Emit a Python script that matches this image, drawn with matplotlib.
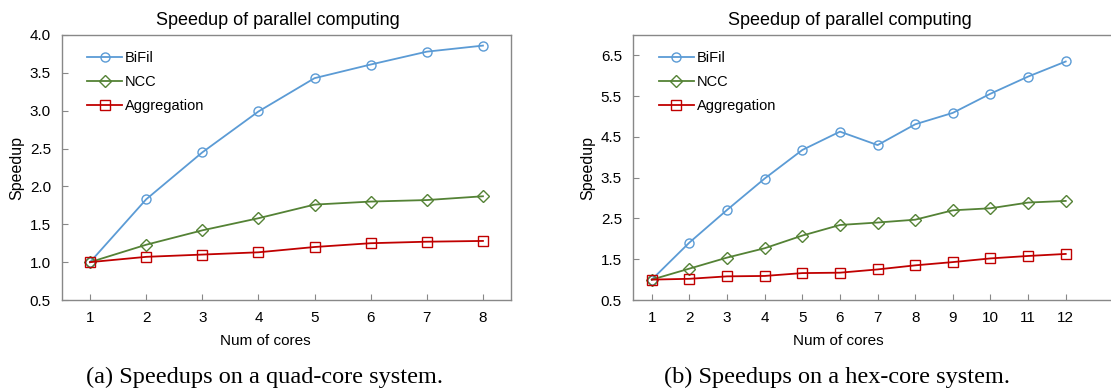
import numpy as np
import matplotlib.pyplot as plt

plt.rcParams['font.family'] = ['Liberation Sans', 'DejaVu Sans']

# quad-core system
cores_a = [1, 2, 3, 4, 5, 6, 7, 8]
bifil_a = [1.0, 1.83, 2.45, 2.99, 3.43, 3.61, 3.78, 3.86]
ncc_a = [1.0, 1.23, 1.42, 1.58, 1.76, 1.80, 1.82, 1.87]
aggr_a = [1.0, 1.07, 1.10, 1.13, 1.20, 1.25, 1.27, 1.28]

# hex-core system
cores_b = [1, 2, 3, 4, 5, 6, 7, 8, 9, 10, 11, 12]
bifil_b = [1.0, 1.91, 2.71, 3.48, 4.18, 4.63, 4.30, 4.81, 5.09, 5.56, 5.98, 6.35]
ncc_b = [1.0, 1.27, 1.54, 1.77, 2.08, 2.34, 2.40, 2.47, 2.70, 2.75, 2.89, 2.93]
aggr_b = [1.0, 1.02, 1.08, 1.09, 1.16, 1.17, 1.25, 1.35, 1.43, 1.52, 1.58, 1.63]

yticks_a = [0.5, 1.0, 1.5, 2.0, 2.5, 3.0, 3.5, 4.0]
yticks_b = [0.5, 1.5, 2.5, 3.5, 4.5, 5.5, 6.5]

blue = '#5B9BD5'
green = '#548235'
red = '#C00000'

W, H = 1111, 392
fig = plt.figure(figsize=(W / 100, H / 100), dpi=100)


def px_axes(left, top, right, bottom):
    return fig.add_axes([left / W, (H - bottom) / H, (right - left) / W, (bottom - top) / H])


def draw(ax, x, bifil, ncc, aggr, xlim, ylim, yticks, title_x, xlabel_x):
    ax.plot(x, bifil, color=blue, marker='o', ms=6.5, mfc='none', mew=1.0, lw=1.3, label='BiFil')
    ax.plot(x, ncc, color=green, marker='D', ms=6, mfc='none', mew=1.0, lw=1.3, label='NCC')
    ax.plot(x, aggr, color=red, marker='s', ms=6.5, mfc='none', mew=1.0, lw=1.3, label='Aggregation')
    ax.set_xlim(*xlim)
    ax.set_ylim(*ylim)
    ax.set_xticks(x)
    ax.set_yticks(yticks)
    ax.set_yticklabels(['%.1f' % v for v in yticks])
    ax.tick_params(direction='in', length=4, color='#888888', labelsize=11)
    ax.tick_params(axis='x', pad=8)
    ax.tick_params(axis='y', pad=8)
    for s in ax.spines.values():
        s.set_color('#888888')
        s.set_linewidth(1.0)
    ax.set_title('Speedup of parallel computing', fontsize=13, pad=7)
    ax.title.set_position((title_x, 1.0))
    ax.set_xlabel('Num of cores', fontsize=11, labelpad=5)
    ax.xaxis.set_label_coords(xlabel_x, -0.13)
    ax.set_ylabel('Speedup', fontsize=11.5, labelpad=4)
    ax.legend(loc='upper left', frameon=False, fontsize=10.5, handlelength=2.4,
              handletextpad=0.2, labelspacing=0.7, borderaxespad=0.7, bbox_to_anchor=(0.02, 1.0))


ax1 = px_axes(62, 35, 511, 300)
draw(ax1, cores_a, bifil_a, ncc_a, aggr_a, (0.5, 8.5), (0.5, 4.0), yticks_a, 0.481, 0.452)

ax2 = px_axes(633, 35, 1115, 300)
draw(ax2, cores_b, bifil_b, ncc_b, aggr_b, (0.5, 12 + (1115 - 1065.7) / 37.64), (0.5, 7.0), yticks_b,
     0.45, 0.425)

fig.text(264 / W, 1 - 377 / H, '(a) Speedups on a quad-core system.', ha='center', va='center',
         fontsize=17.5, family=['Liberation Serif'])
fig.text(837 / W, 1 - 377 / H, '(b) Speedups on a hex-core system.', ha='center', va='center',
         fontsize=17.5, family=['Liberation Serif'])

fig.savefig('out.png', dpi=100)
